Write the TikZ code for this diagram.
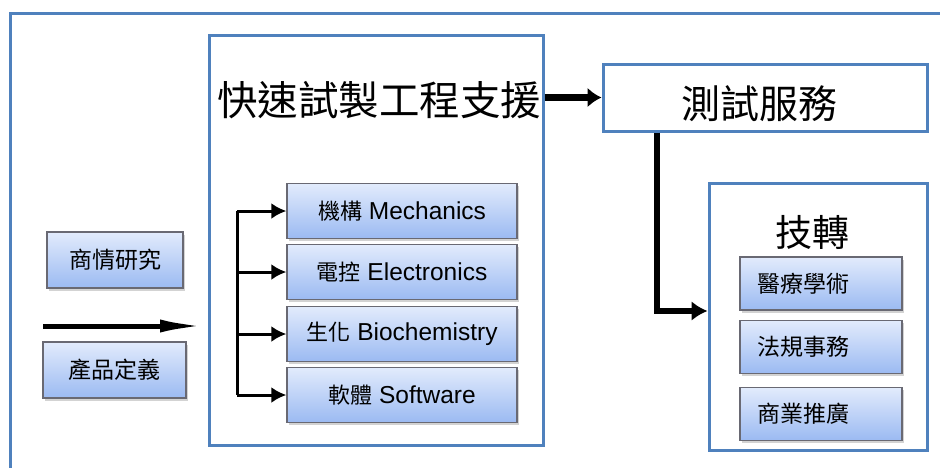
\documentclass[tikz,border=0pt]{standalone}
\usepackage{fontspec}
\setmainfont{Liberation Sans}
\newfontfamily\cjk{Noto Sans CJK TC}
\usetikzlibrary{arrows.meta,shadows}
\definecolor{frameblue}{RGB}{79,129,189}
\definecolor{boxtop}{RGB}{226,235,252}
\definecolor{boxbot}{RGB}{155,186,242}
\definecolor{boxline}{RGB}{105,105,115}
\tikzset{
  bigbox/.style={draw=frameblue, line width=3pt, fill=white, inner sep=0pt},
  subbox/.style={draw=boxline, line width=1.3pt, top color=boxtop, bottom color=boxbot,
    drop shadow={shadow xshift=2pt, shadow yshift=-2.5pt, opacity=0.35}, inner sep=0pt},
  midbox/.style={subbox, minimum width=230pt, minimum height=55pt, font=\fontsize{24.5}{28}\selectfont},
  sidebox/.style={subbox, minimum height=53pt, text width=128pt, inner xsep=17pt, align=left,
    font=\fontsize{23}{26}\selectfont\cjk},
  leftbox/.style={subbox, minimum height=56pt, font=\fontsize{23}{26}\selectfont\cjk},
  thinarrow/.style={line width=3pt, -{Latex[length=15pt,width=16pt]}},
  thickarrow/.style={line width=6.5pt, -{Latex[length=14pt,width=20pt]}},
  title/.style={font=\fontsize{39}{42}\selectfont\cjk, inner sep=0pt},
}
\begin{document}
\begin{tikzpicture}[x=1pt,y=-1pt]
\useasboundingbox (0,0) rectangle (940,467);
% outer frame (open to right and bottom)
\draw[frameblue, line width=3pt] (10,490) -- (10,13) -- (960,13);

% main boxes
\node[bigbox, minimum width=334pt, minimum height=410pt] (main) at (376,240) {};
\node[bigbox, minimum width=324pt, minimum height=67pt] (test) at (765,97.5) {};
\node[bigbox, minimum width=218pt, minimum height=267pt] (tech) at (818,316.5) {};

% titles
\node[title, font=\fontsize{40.5}{44}\selectfont\cjk] (tmain) at (379,100) {快速試製工程支援};
\node[title] (ttest) at (759,104) {測試服務};
\node[title, font=\fontsize{37}{40}\selectfont\cjk] (ttech) at (812,232) {技轉};

% sub boxes in main
\node[midbox] (m1) at (402,211) {{\cjk\fontsize{22}{26}\selectfont 機構} Mechanics};
\node[midbox] (m2) at (402,272) {{\cjk\fontsize{22}{26}\selectfont 電控} Electronics};
\node[midbox] (m3) at (402,334) {{\cjk\fontsize{22}{26}\selectfont 生化} Biochemistry};
\node[midbox] (m4) at (402,395) {{\cjk\fontsize{22}{26}\selectfont 軟體} Software};

% side boxes in tech
\node[sidebox] (s1) at (821,283.5) {醫療學術};
\node[sidebox] (s2) at (821,347) {法規事務};
\node[sidebox] (s3) at (821,414) {商業推廣};

% left boxes
\node[leftbox, minimum width=136pt] (l1) at (115,260) {商情研究};
\node[leftbox, minimum width=143pt] (l2) at (114.5,370) {產品定義};

% bracket arrows
\coordinate (br) at (237,0);
\draw[line width=3pt] (br |- m1) -- (br |- m4);
\foreach \n in {m1,m2,m3,m4}{
  \draw[thinarrow] (br |- \n) -- (\n.west);
}

% main -> test
\draw[thickarrow] (main.east |- test.west) -- (test.west);

% test -> tech
\coordinate (turn) at (657,311);
\draw[line width=6pt, -{Latex[length=16pt,width=20pt]}] (test.south -| turn) -- (turn) -- (tech.west |- turn);

% left long arrow
\coordinate (la) at (43,326);
\coordinate (lb) at (206,326);
\draw[line width=5pt, -{Latex[length=46pt, width=13pt]}] (la) -- (lb);
\end{tikzpicture}
\end{document}
